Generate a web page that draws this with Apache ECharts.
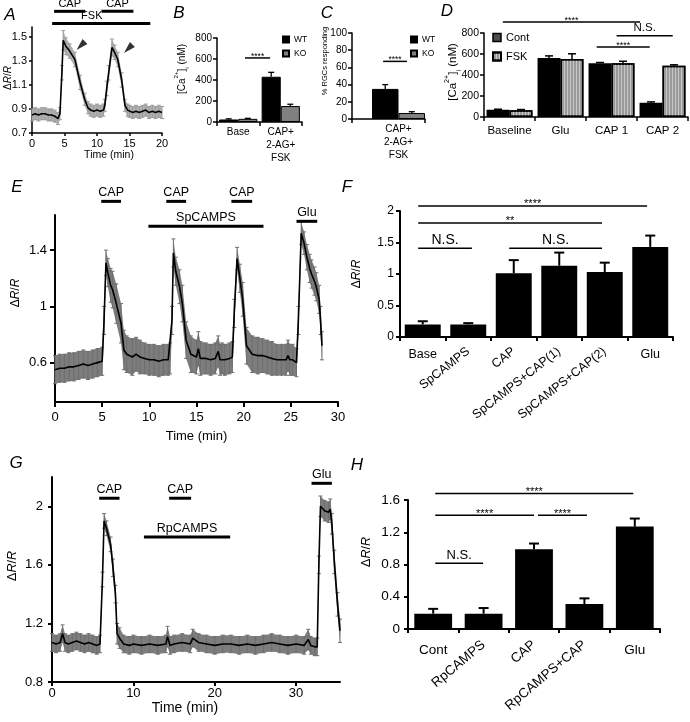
<!DOCTYPE html>
<html><head><meta charset="utf-8">
<script src="https://cdn.jsdelivr.net/npm/echarts@6/dist/echarts.min.js"></script>
<style>html,body{margin:0;padding:0;background:#fff}#c{width:690px;height:722px}</style>
</head><body><div id="c"></div>
<script>
// ---------- Panel A (trace) ----------
const aTime = [0,0.5,1,1.5,2,2.5,3,3.5,4,4.3,4.6,4.8,5.2,5.8,6.6,7.4,8.1,8.6,9,9.5,10,10.5,11,11.2,11.5,11.8,12.3,12.7,13.2,13.8,14.3,14.7,15,15.5,16,16.5,17,17.5,18,18.5,19,19.5,20];
const aMean = [0.85,0.86,0.85,0.86,0.86,0.85,0.85,0.84,0.82,0.86,1.2,1.47,1.42,1.38,1.31,1.12,0.98,0.91,0.89,0.88,0.89,0.88,0.89,0.93,1.07,1.2,1.41,1.37,1.31,1.14,0.93,0.89,0.88,0.87,0.88,0.87,0.88,0.89,0.87,0.88,0.87,0.88,0.87];
const aErr  = [0.05,0.05,0.05,0.05,0.05,0.05,0.05,0.05,0.05,0.05,0.06,0.08,0.07,0.06,0.06,0.06,0.05,0.05,0.05,0.05,0.05,0.05,0.05,0.05,0.06,0.06,0.07,0.06,0.06,0.06,0.05,0.05,0.05,0.05,0.05,0.05,0.05,0.05,0.05,0.05,0.05,0.05,0.05];
const aStim = [[3.4,8.2,1.71,'CAP'],[10.7,15.6,1.71,'CAP'],[3.1,18.2,1.61,'FSK',9.2]];
const aArrows = [[7.5,1.425],[14.8,1.40]];
const aTicks = [0.7,0.9,1.1,1.3,1.5];

// ---------- Panel B ----------
const bCats = ['Base','CAP+\n2-AG+\nFSK'];
const bWT = [24,431], bWTErr = [6,42];
const bKO = [30,152], bKOErr = [5,17];
const bSig = [[0.16,0.75,610,'****']];

// ---------- Panel C ----------
const cCats = ['CAP+\n2-AG+\nFSK'];
const cWT = [35], cWTErr = [5];
const cKO = [7], cKOErr = [1.5];
const cSig = [[-0.29,0.16,67,'****']];

// ---------- Panel D ----------
const dCats = ['Baseline','Glu','CAP 1','CAP 2'];
const dCont = [68,562,511,136], dContErr = [6,20,8,8];
const dFSK = [65,552,511,489], dFSKErr = [6,50,20,8];
const dSig = [[-0.13,2.56,905,'****'],[2.1,3.2,774,'N.S.'],[1.71,2.75,667,'****']];

// ---------- Panel E (trace) ----------
const eTime = [0,0.5,1,1.5,2,2.5,3,3.5,4,4.5,5,5.2,5.4,5.6,5.9,6.1,6.5,7.0,7.3,7.6,8.2,8.6,9,9.5,10,10.5,11,11.5,12,12.2,12.4,12.55,12.8,13.2,13.5,13.9,14.4,15,15.2,15.4,16,16.5,17,17.3,17.5,17.7,18,18.5,18.8,19.0,19.3,19.6,19.9,20.3,20.9,21.5,22,22.5,23,23.5,24,24.5,24.7,24.9,25.2,25.6,25.8,26.1,26.4,26.7,27.0,27.2,27.5,27.7,28.0,28.15,28.3];
const eMean = [0.55,0.56,0.56,0.57,0.57,0.58,0.59,0.58,0.59,0.60,0.61,0.9,1.31,1.24,1.15,1.12,1.02,0.88,0.69,0.66,0.64,0.66,0.64,0.63,0.62,0.62,0.61,0.62,0.62,0.63,0.9,1.38,1.25,1.14,1.02,0.76,0.66,0.64,0.70,0.63,0.63,0.62,0.63,0.68,0.62,0.63,0.62,0.63,0.64,0.95,1.34,1.2,1.05,0.72,0.66,0.65,0.65,0.64,0.63,0.62,0.62,0.62,0.65,0.62,0.62,0.60,0.9,1.52,1.45,1.35,1.27,1.23,1.18,1.14,1.05,0.9,0.72];
const eErr  = [0.10,0.10,0.10,0.10,0.10,0.10,0.10,0.10,0.10,0.10,0.10,0.10,0.09,0.10,0.12,0.13,0.14,0.14,0.14,0.13,0.13,0.12,0.12,0.11,0.11,0.11,0.11,0.11,0.11,0.11,0.10,0.10,0.10,0.12,0.13,0.13,0.13,0.12,0.12,0.12,0.11,0.11,0.11,0.11,0.11,0.11,0.11,0.11,0.11,0.10,0.08,0.10,0.12,0.13,0.13,0.13,0.12,0.12,0.12,0.11,0.11,0.11,0.11,0.11,0.11,0.10,0.10,0.08,0.08,0.09,0.10,0.10,0.10,0.10,0.10,0.10,0.10];
const eStim = [[4.9,7.0,1.747,'CAP'],[11.8,13.9,1.747,'CAP'],[18.7,20.9,1.747,'CAP'],[9.9,22.1,1.57,'SpCAMPS'],[25.6,27.8,1.605,'Glu']];
const eTicks = [0.6,1,1.4];

// ---------- Panel F ----------
const fCats = ['Base','SpCAMPS','CAP','SpCAMPS+CAP(1)','SpCAMPS+CAP(2)','Glu'];
const fVals = [0.2,0.2,1.01,1.13,1.03,1.43];
const fErr  = [0.05,0.02,0.21,0.21,0.15,0.18];
const fSig = [[-0.1,4.93,2.08,'****'],[-0.1,3.94,1.81,'**'],[-0.1,1.08,1.41,'N.S.'],[1.9,3.94,1.41,'N.S.']];

// ---------- Panel G (trace) ----------
const gTime = [0,0.5,1,1.3,1.6,2,2.5,3,3.5,4,4.5,5,5.5,5.9,6.2,6.4,6.7,7.2,7.5,7.8,8.0,8.3,8.8,9.5,10,11,12,13,14,14.2,14.5,15,16,17,17.3,18,19,20,21,22,23,24,25,26,27,28,29,30,31,31.5,31.8,32.3,32.6,32.8,33,33.5,34,34.2,34.4,34.7,35.1,35.4];
const gMean = [1.07,1.06,1.07,1.13,1.07,1.06,1.07,1.08,1.07,1.06,1.07,1.06,1.05,1.06,1.5,1.9,1.85,1.74,1.58,1.40,1.13,1.1,1.06,1.05,1.06,1.05,1.06,1.05,1.06,1.11,1.05,1.06,1.07,1.06,1.10,1.07,1.06,1.05,1.06,1.06,1.05,1.06,1.05,1.06,1.07,1.06,1.05,1.06,1.05,1.09,1.05,1.04,1.04,1.6,2.0,1.97,1.96,1.98,1.88,1.62,1.33,1.15];
const gErr  = [0.06,0.06,0.06,0.06,0.06,0.06,0.06,0.06,0.06,0.06,0.06,0.06,0.06,0.06,0.05,0.05,0.05,0.05,0.06,0.06,0.07,0.07,0.06,0.06,0.06,0.06,0.06,0.06,0.06,0.07,0.06,0.06,0.06,0.06,0.06,0.06,0.06,0.06,0.06,0.06,0.06,0.06,0.06,0.06,0.06,0.06,0.06,0.06,0.06,0.07,0.06,0.06,0.06,0.06,0.07,0.07,0.07,0.07,0.07,0.08,0.08,0.08];
const gStim = [[5.8,8.3,2.055,'CAP'],[14.4,17.1,2.055,'CAP'],[11.3,21.9,1.79,'RpCAMPS'],[31.9,34.4,2.157,'Glu']];
const gTicksY = [0.8,1.2,1.6,2];
const gTicksX = [0,10,20,30];

// ---------- Panel H ----------
const hCats = ['Cont','RpCAMPS','CAP','RpCAMPS+CAP','Glu'];
const hVals = [0.19,0.19,0.99,0.31,1.27];
const hErr  = [0.06,0.07,0.07,0.07,0.1];
const hSig = [[0.04,3.97,1.68,'****'],[0.04,2.0,1.41,'****'],[2.08,3.05,1.41,'****'],[0.04,0.99,0.816,'N.S.']];

// =====================================================
const FF = '"Liberation Sans", Arial, Helvetica, sans-serif';
const chart = echarts.init(document.getElementById('c'), null, {renderer:'canvas'});

function mk(base, over) {
  const r = Object.assign({}, base);
  for (const k in over) {
    const v = over[k];
    if (v && typeof v === 'object' && !Array.isArray(v) && base[k] && typeof base[k] === 'object') r[k] = Object.assign({}, base[k], v);
    else r[k] = v;
  }
  return r;
}
function axisBase(fs, lw) {
  return {
    axisLine:{show:true, onZero:false, lineStyle:{color:'#000', width:lw}},
    axisTick:{show:true, length:4, lineStyle:{color:'#000', width:lw}},
    axisLabel:{color:'#000', fontSize:fs, fontFamily:FF},
    splitLine:{show:false}
  };
}
const zip = (t, m) => t.map((x, i) => [x, m[i]]);

function bandSeries(xi, yi, t, m, e, color) {
  return {type:'custom', xAxisIndex:xi, yAxisIndex:yi, data:zip(t, m), encode:{x:0, y:1}, z:1, silent:true,
    renderItem:(p, api) => {
      if (p.dataIndex !== 0) return null;
      const pts = [];
      for (let i = 0; i < t.length; i++) pts.push(api.coord([t[i], m[i] + e[i]]));
      for (let i = t.length - 1; i >= 0; i--) pts.push(api.coord([t[i], m[i] - e[i]]));
      return {type:'polygon', shape:{points:pts}, style:{fill:color}};
    }};
}
function tickSeries(xi, yi, t, m, e, color) {
  return {type:'custom', xAxisIndex:xi, yAxisIndex:yi, data:zip(t, m), encode:{x:0, y:1}, z:2, silent:true,
    renderItem:(p, api) => {
      const i = p.dataIndex;
      const a = api.coord([t[i], m[i] + e[i]]), b = api.coord([t[i], m[i] - e[i]]);
      const st = {stroke:color, lineWidth:1};
      return {type:'group', children:[
        {type:'line', shape:{x1:a[0], y1:a[1], x2:b[0], y2:b[1]}, style:st},
        {type:'line', shape:{x1:a[0]-2, y1:a[1], x2:a[0]+2, y2:a[1]}, style:st},
        {type:'line', shape:{x1:b[0]-2, y1:b[1], x2:b[0]+2, y2:b[1]}, style:st}
      ]};
    }};
}
function lineSeries(xi, yi, t, m) {
  return {type:'line', xAxisIndex:xi, yAxisIndex:yi, data:zip(t, m), symbol:'none', z:3, silent:true,
    lineStyle:{color:'#000', width:1.6}};
}
function stimSeries(xi, yi, arr, fs) {
  return {type:'custom', xAxisIndex:xi, yAxisIndex:yi, data:arr.map(d => [d[0], d[2]]), encode:{x:0, y:1}, z:4, silent:true,
    renderItem:(p, api) => {
      const d = arr[p.dataIndex];
      const a = api.coord([d[0], d[2]]), b = api.coord([d[1], d[2]]);
      const lx = d.length > 4 ? api.coord([d[4], d[2]])[0] : (a[0] + b[0]) / 2;
      return {type:'group', children:[
        {type:'line', shape:{x1:a[0], y1:a[1], x2:b[0], y2:b[1]}, style:{stroke:'#000', lineWidth:3}},
        {type:'text', x:lx, y:a[1] - 2, style:{text:d[3], fill:'#000', fontSize:fs, fontFamily:FF, align:'center', verticalAlign:'bottom'}}
      ]};
    }};
}
function catX(api, v, y) {
  const b = Math.round(v);
  const c = api.coord([b, y]);
  return c[0] + (v - b) * api.size([1, 0])[0];
}
function sigSeries(xi, yi, arr, fsStar, fsNS) {
  return {type:'custom', xAxisIndex:xi, yAxisIndex:yi, data:arr.map(d => [Math.round(d[0]), d[2]]), encode:{x:0, y:1}, z:5, silent:true,
    renderItem:(p, api) => {
      const d = arr[p.dataIndex];
      const y = api.coord([0, d[2]])[1];
      const x1 = catX(api, d[0], d[2]), x2 = catX(api, d[1], d[2]);
      const star = d[3].indexOf('*') >= 0;
      return {type:'group', children:[
        {type:'line', shape:{x1:x1, y1:y, x2:x2, y2:y}, style:{stroke:'#000', lineWidth:1.5}},
        {type:'text', x:(x1 + x2) / 2, y: star ? y + fsStar * 0.35 : y - 1.5,
          style:{text:d[3], fill:'#000', fontSize: star ? fsStar : fsNS, fontFamily:FF, align:'center', verticalAlign:'bottom'}}
      ]};
    }};
}
function errSeries(xi, yi, vals, errs, n, k, gap, capHalf, lw) {
  return {type:'custom', xAxisIndex:xi, yAxisIndex:yi, data:vals.map((v, i) => [i, v]), encode:{x:0, y:1}, z:4, silent:true,
    renderItem:(p, api) => {
      const i = p.dataIndex;
      const bw = api.size([1, 0])[0];
      const c = api.coord([i, vals[i]]);
      const x = c[0] + (k - (n - 1) / 2) * bw * (1 - gap) / n;
      const y2 = api.coord([i, vals[i] + errs[i]])[1];
      const st = {stroke:'#000', lineWidth:lw};
      return {type:'group', children:[
        {type:'line', shape:{x1:x, y1:c[1], x2:x, y2:y2}, style:st},
        {type:'line', shape:{x1:x - capHalf, y1:y2, x2:x + capHalf, y2:y2}, style:st}
      ]};
    }};
}
function letter(t, x, y) {
  return {type:'text', x:x, y:y, style:{text:t, fontSize:17, fontStyle:'italic', fontFamily:FF, fill:'#000', align:'center', verticalAlign:'middle'}};
}
function yTitle(text, rich, x, y, fs) {
  return {type:'text', x:x, y:y, rotation:Math.PI / 2,
    style:{text:text, rich:rich, fontSize:fs, fontFamily:FF, fill:'#000', align:'center', verticalAlign:'middle'}};
}
function drRich(fs) {
  return {n:{fontSize:fs, fontFamily:FF, fill:'#000'}, i:{fontSize:fs, fontFamily:FF, fontStyle:'italic', fill:'#000'}};
}
function caRich(fs) {
  return {
    n:{fontSize:fs, fontFamily:FF, fill:'#000', lineHeight:fs * 1.7, verticalAlign:'middle'},
    sup:{fontSize:fs * 0.62, fontFamily:FF, fill:'#000', verticalAlign:'top', lineHeight:fs * 1.7},
    sub:{fontSize:fs * 0.62, fontFamily:FF, fill:'#000', verticalAlign:'bottom', lineHeight:fs * 1.7}
  };
}
const DR = '{n|Δ}{i|R}{n|/}{i|R}';
const CA = '{n|[Ca}{sup|2+}{n|]}{sub|i}{n| (nM)}';

const G = (l, t, w, h) => ({left:l, top:t, width:w, height:h, containLabel:false, outerBoundsMode:'none'});

const grids = [
  G(32, 27, 130, 106),   // A
  G(217, 38, 85, 84),    // B
  G(352, 33, 73, 86),    // C axes
  G(372, 33, 53, 86),    // C bars
  G(484, 33, 204, 84),   // D
  G(55, 215, 283, 187),  // E
  G(400, 211, 273, 126), // F
  G(52, 477, 288, 205),  // G
  G(408, 500, 252, 129)  // H
];

const nameStyle = (fs, pad) => ({fontSize:fs, fontFamily:FF, color:'#000', padding:pad || 0});

const xAxes = [
  mk(axisBase(11, 1.5), {type:'value', gridIndex:0, min:0, max:20, interval:5, axisLabel:{margin:5}, axisTick:{length:3},
    name:'Time (min)', nameLocation:'middle', nameGap:17, nameTextStyle:nameStyle(10.5, [0, 0, 0, 24])}),
  mk(axisBase(10, 1.5), {type:'category', gridIndex:1, data:bCats, axisLabel:{margin:4, lineHeight:13, interval:0}, axisTick:{length:4}}),
  mk(axisBase(10, 1.5), {type:'category', gridIndex:2, data:[''], axisLabel:{show:false}}),
  {type:'category', gridIndex:3, data:cCats, axisLine:{show:false}, axisTick:{show:false}, splitLine:{show:false},
    axisLabel:{color:'#000', fontSize:10, fontFamily:FF, margin:4, lineHeight:13}},
  mk(axisBase(11.5, 1.5), {type:'category', gridIndex:4, data:dCats, axisLabel:{margin:8, interval:0}}),
  mk(axisBase(13, 2), {type:'value', gridIndex:5, min:0, max:30, interval:5, axisLabel:{margin:9}, axisTick:{length:5},
    name:'Time (min)', nameLocation:'middle', nameGap:28, nameTextStyle:nameStyle(13)}),
  mk(axisBase(12.5, 2), {type:'category', gridIndex:6, data:fCats,
    axisLabel:{margin:11, interval:0, formatter:(v, i) => (i === 0 || i === fCats.length - 1) ? v : ''}}),
  {type:'category', gridIndex:6, data:fCats, position:'bottom', axisLine:{show:false}, axisTick:{show:false}, splitLine:{show:false},
    axisLabel:{color:'#000', fontSize:12.5, fontFamily:FF, margin:13, interval:0, rotate:38,
      formatter:(v, i) => (i === 0 || i === fCats.length - 1) ? '' : v}},
  mk(axisBase(13, 2), {type:'value', gridIndex:7, min:0, max:35.4, axisLabel:{customValues:gTicksX, margin:5}, axisTick:{customValues:gTicksX, length:4},
    name:'Time (min)', nameLocation:'middle', nameGap:16, nameTextStyle:nameStyle(14, [0, 22, 0, 0])}),
  mk(axisBase(13.5, 2), {type:'category', gridIndex:8, data:hCats,
    axisLabel:{margin:14, interval:0, formatter:(v, i) => (i === 0 || i === hCats.length - 1) ? v : ''}}),
  {type:'category', gridIndex:8, data:hCats, position:'bottom', axisLine:{show:false}, axisTick:{show:false}, splitLine:{show:false},
    axisLabel:{color:'#000', fontSize:13.5, fontFamily:FF, margin:14, interval:0, rotate:40,
      formatter:(v, i) => (i === 0 || i === hCats.length - 1) ? '' : v}}
];

const yAxes = [
  mk(axisBase(11, 1.5), {type:'value', gridIndex:0, min:0.7, max:1.58, axisLabel:{customValues:aTicks, margin:5}, axisTick:{customValues:aTicks, length:3}}),
  mk(axisBase(10, 1.5), {type:'value', gridIndex:1, min:0, max:800, interval:200, axisLabel:{margin:5}}),
  mk(axisBase(10, 1.5), {type:'value', gridIndex:2, min:0, max:100, interval:20, axisLabel:{margin:5}}),
  {type:'value', gridIndex:3, min:0, max:100, show:false, splitLine:{show:false}},
  mk(axisBase(10.5, 1.5), {type:'value', gridIndex:4, min:0, max:800, interval:200, axisLabel:{margin:5}}),
  mk(axisBase(13, 2), {type:'value', gridIndex:5, min:0.32, max:1.65, axisLabel:{customValues:eTicks, margin:8}, axisTick:{customValues:eTicks, length:5}}),
  mk(axisBase(12, 2), {type:'value', gridIndex:6, min:0, max:2, interval:0.5, axisLabel:{margin:6}}),
  mk(axisBase(13, 2), {type:'value', gridIndex:7, min:0.8, max:2.2, axisLabel:{customValues:gTicksY, margin:9}, axisTick:{customValues:gTicksY, length:4}}),
  mk(axisBase(13.5, 2), {type:'value', gridIndex:8, min:0, max:1.6, interval:0.4, axisLabel:{margin:8}})
];

const stripe = {symbol:'rect', symbolSize:1, color:'rgba(255,255,255,0.45)', dashArrayX:[1, 2], dashArrayY:[4, 0], rotation:0};

const series = [
  // A
  bandSeries(0, 0, aTime, aMean, aErr, '#b0b0b0'),
  tickSeries(0, 0, aTime, aMean, aErr, '#9c9c9c'),
  lineSeries(0, 0, aTime, aMean),
  stimSeries(0, 0, aStim, 11),
  {type:'scatter', xAxisIndex:0, yAxisIndex:0, data:aArrows, symbol:'triangle', symbolSize:[7, 12], symbolRotate:135, itemStyle:{color:'#000'}, z:6, silent:true},
  // B
  {type:'bar', name:'WT', xAxisIndex:1, yAxisIndex:1, data:bWT, barGap:'0%', barCategoryGap:'10%', itemStyle:{color:'#000', borderColor:'#000', borderWidth:1}},
  {type:'bar', name:'KO', xAxisIndex:1, yAxisIndex:1, data:bKO, barGap:'0%', barCategoryGap:'10%', itemStyle:{color:'#808080', borderColor:'#000', borderWidth:1}},
  errSeries(1, 1, bWT, bWTErr, 2, 0, 0.10, 3, 1.3),
  errSeries(1, 1, bKO, bKOErr, 2, 1, 0.10, 3, 1.3),
  sigSeries(1, 1, bSig, 8.5, 9),
  // C
  {type:'bar', name:'WT', xAxisIndex:3, yAxisIndex:3, data:cWT, barGap:'0%', barCategoryGap:'0%', itemStyle:{color:'#000', borderColor:'#000', borderWidth:1}},
  {type:'bar', name:'KO', xAxisIndex:3, yAxisIndex:3, data:cKO, barGap:'0%', barCategoryGap:'0%', itemStyle:{color:'#808080', borderColor:'#000', borderWidth:1}},
  errSeries(3, 3, cWT, cWTErr, 2, 0, 0, 3, 1.3),
  errSeries(3, 3, cKO, cKOErr, 2, 1, 0, 3, 1.3),
  sigSeries(3, 3, cSig, 8.5, 9),
  // D
  {type:'bar', name:'Cont', xAxisIndex:4, yAxisIndex:4, data:dCont, barGap:'0%', barCategoryGap:'10%', itemStyle:{color:'#000', borderColor:'#000', borderWidth:1.5}},
  {type:'bar', name:'FSK', xAxisIndex:4, yAxisIndex:4, data:dFSK, barGap:'0%', barCategoryGap:'10%', itemStyle:{color:'#9a9a9a', borderColor:'#000', borderWidth:1.5, decal:stripe}},
  errSeries(4, 4, dCont, dContErr, 2, 0, 0.10, 4, 1.5),
  errSeries(4, 4, dFSK, dFSKErr, 2, 1, 0.10, 4, 1.5),
  sigSeries(4, 4, dSig, 9, 11.5),
  // E
  bandSeries(5, 5, eTime, eMean, eErr, '#7d7d7d'),
  tickSeries(5, 5, eTime, eMean, eErr, '#6e6e6e'),
  lineSeries(5, 5, eTime, eMean),
  stimSeries(5, 5, eStim, 12.5),
  // F
  {type:'bar', name:'F', xAxisIndex:6, yAxisIndex:6, data:fVals, barCategoryGap:'21%', itemStyle:{color:'#000'}},
  errSeries(6, 6, fVals, fErr, 1, 0, 0.21, 5, 2),
  sigSeries(6, 6, fSig, 11, 14),
  // G
  bandSeries(8, 7, gTime, gMean, gErr, '#7d7d7d'),
  tickSeries(8, 7, gTime, gMean, gErr, '#6e6e6e'),
  lineSeries(8, 7, gTime, gMean),
  stimSeries(8, 7, gStim, 12.5),
  // H
  {type:'bar', name:'H', xAxisIndex:9, yAxisIndex:8, data:hVals, barCategoryGap:'25%', itemStyle:{color:'#000'}},
  errSeries(9, 8, hVals, hErr, 1, 0, 0.25, 5, 2),
  sigSeries(9, 8, hSig, 11, 13)
];

const legendBase = {orient:'vertical', icon:'rect', selectedMode:false, padding:0};
const option = {
  animation:false,
  backgroundColor:'#fff',
  textStyle:{fontFamily:FF, color:'#000'},
  grid:grids,
  xAxis:xAxes,
  yAxis:yAxes,
  legend:[
    Object.assign({}, legendBase, {left:282, top:35, itemWidth:6, itemHeight:6, itemGap:5, textStyle:{fontSize:8.5, fontFamily:FF, color:'#000'}, data:['WT','KO']}),
    Object.assign({}, legendBase, {left:410, top:35, itemWidth:6, itemHeight:6, itemGap:5, textStyle:{fontSize:8.5, fontFamily:FF, color:'#000'}, data:['WT','KO']}),
    Object.assign({}, legendBase, {left:492, top:32, itemWidth:8, itemHeight:8, itemGap:8, textStyle:{fontSize:11, fontFamily:FF, color:'#000'},
      data:[{name:'Cont', itemStyle:{color:'#4d4d4d', borderColor:'#000', borderWidth:1.5}}, {name:'FSK'}]})
  ],
  graphic:[
    letter('A', 10, 15), letter('B', 179, 13), letter('C', 327, 13), letter('D', 447, 11),
    letter('E', 17, 187), letter('F', 347, 187), letter('G', 16, 463), letter('H', 357, 465),
    yTitle(DR, drRich(10), 8, 78, 10),
    yTitle(CA, caRich(10), 182, 69, 10),
    yTitle('% RGCs responding', null, 325, 61, 7.5),
    yTitle(CA, caRich(11.5), 453, 72, 11.5),
    yTitle(DR, drRich(12), 16, 293, 12),
    yTitle(DR, drRich(12), 357, 274, 12),
    yTitle(DR, drRich(12.5), 13, 566, 12.5),
    yTitle(DR, drRich(12.5), 367, 552, 12.5)
  ],
  series:series
};
chart.setOption(option);
</script></body></html>
